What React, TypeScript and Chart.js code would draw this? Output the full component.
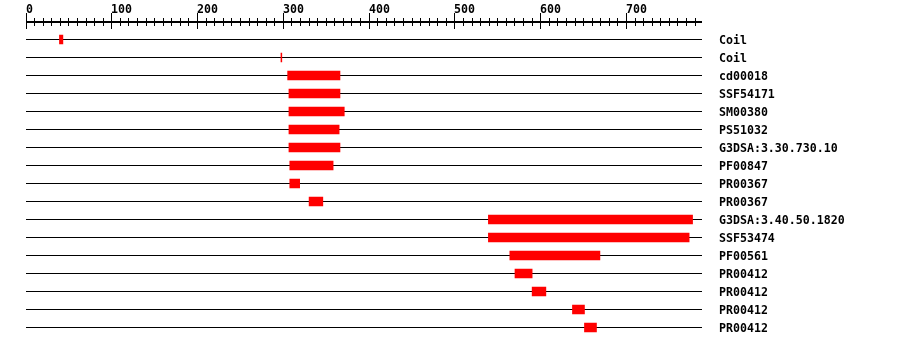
import React, { useEffect, useRef } from "react";
import { Chart, registerables } from "chart.js";

Chart.register(...registerables);

const featureLabels = [
  "Coil",
  "Coil",
  "cd00018",
  "SSF54171",
  "SM00380",
  "PS51032",
  "G3DSA:3.30.730.10",
  "PF00847",
  "PR00367",
  "PR00367",
  "G3DSA:3.40.50.1820",
  "SSF53474",
  "PF00561",
  "PR00412",
  "PR00412",
  "PR00412",
  "PR00412",
];
const featureStarts = [39, 297.2, 305, 306.5, 306.5, 306.5, 306.5, 307.5, 307.5, 330, 539, 539, 564, 570, 590, 637, 651];
const featureEnds = [43, 298.2, 366, 366, 371, 365, 366, 358, 319, 346, 777, 773, 669, 590, 606, 651, 665];
const sequenceLength = 788;
const majorTicks = [0, 100, 200, 300, 400, 500, 600, 700];
const minorStep = 10;

const FONT = "'DejaVu Sans Mono', 'Liberation Mono', monospace";
const FONT_SIZE = 11.6;

const rulerPlugin = {
  id: "ruler",
  afterDraw(chart: any) {
    const ctx = chart.ctx as CanvasRenderingContext2D;
    const xs = chart.scales.x;
    ctx.save();
    ctx.fillStyle = "#000";
    const x0 = xs.getPixelForValue(0);
    const x1 = xs.getPixelForValue(sequenceLength);
    ctx.fillRect(Math.floor(x0), 21, Math.round(x1 - x0), 2);
    for (let v = 0; v < sequenceLength; v += minorStep) {
      const px = Math.floor(xs.getPixelForValue(v));
      const major = v % 100 === 0;
      ctx.fillRect(px, major ? 13 : 18, 1, major ? 16 : 8);
    }
    ctx.font = `bold ${FONT_SIZE}px ${FONT}`;
    ctx.textBaseline = "alphabetic";
    ctx.textAlign = "left";
    majorTicks.forEach((v) => {
      ctx.fillText(String(v), Math.floor(xs.getPixelForValue(v)), 12.5);
    });
    ctx.restore();
  },
};

export default function App() {
  const canvasRef = useRef<HTMLCanvasElement | null>(null);

  useEffect(() => {
    if (!canvasRef.current) return;
    const data = featureStarts.map((s, i) => [s, featureEnds[i]]);
    const chart = new Chart(canvasRef.current, {
      type: "bar",
      data: {
        labels: featureLabels,
        datasets: [
          {
            data: data as any,
            backgroundColor: "#ff0000",
            borderWidth: 0,
            borderSkipped: false,
            barThickness: 9,
          },
        ],
      },
      options: {
        indexAxis: "y",
        responsive: false,
        animation: false,
        devicePixelRatio: 1,
        layout: { padding: { left: 26, top: 30.5, bottom: 9.5, right: 0 } },
        plugins: {
          legend: { display: false },
          tooltip: { enabled: false },
        },
        scales: {
          x: {
            type: "linear",
            min: 0,
            max: sequenceLength,
            display: false,
          },
          y: {
            type: "category",
            position: "right",
            offset: true,
            border: { display: false },
            grid: {
              offset: false,
              color: "#000",
              lineWidth: 1,
              drawTicks: false,
            },
            ticks: {
              color: "#000",
              padding: 17,
              labelOffset: 1,
              font: { family: FONT, size: FONT_SIZE, weight: "bold" },
            },
            afterFit: (scale: any) => {
              scale.width = 198;
              scale.paddingTop = 0;
              scale.paddingBottom = 0;
            },
          },
        },
      },
      plugins: [rulerPlugin],
    });
    return () => chart.destroy();
  }, []);

  return (
    <div style={{ position: "absolute", left: 0, top: 0, width: 900, height: 346, background: "#fff" }}>
      <canvas ref={canvasRef} width={900} height={346} />
    </div>
  );
}
